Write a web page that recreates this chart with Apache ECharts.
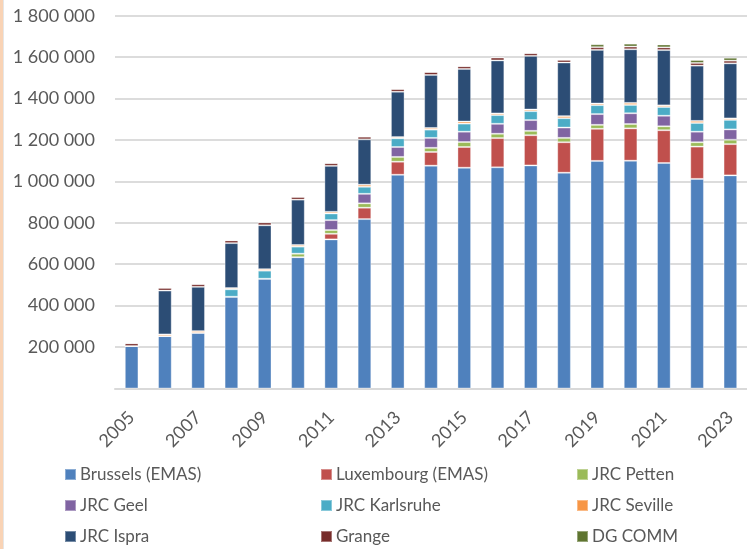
<!DOCTYPE html>
<html>
<head>
<meta charset="utf-8">
<script src="https://cdn.jsdelivr.net/npm/echarts@6/dist/echarts.min.js"></script>
<style>
  html, body { margin: 0; padding: 0; background: #fff; }
  #wrap { position: relative; width: 747px; height: 549px; overflow: hidden; background: #fff; }
  #chart { width: 747px; height: 549px; }
  #edge { position: absolute; left: 0; top: 0; width: 3px; height: 549px; background: #F9D3B5; border-right: 1px solid #E6E6E6; }
</style>
</head>
<body>
<div id="wrap"><div id="chart"></div><div id="edge"></div></div>
<script>
// Years on the category axis
const years = ['2005', '2006', '2007', '2008', '2009', '2010', '2011', '2012', '2013', '2014',
               '2015', '2016', '2017', '2018', '2019', '2020', '2021', '2022', '2023'];

// Values per site, one entry per year
const brussels   = [205000, 253000, 269000, 443000, 530000, 634000, 720000, 818000, 1032000, 1076000,
                    1066000, 1068000, 1077000, 1042000, 1099000, 1100000, 1089000, 1012000, 1029000];
const luxembourg = [0, 0, 0, 0, 0, 0, 27000, 55000, 63000, 66000,
                    100000, 141000, 146000, 147000, 155000, 156000, 158000, 156000, 151000];
const petten     = [0, 0, 0, 0, 0, 17000, 18000, 21000, 23000, 20000,
                    24000, 21000, 21000, 21000, 19000, 21000, 19000, 21000, 21000];
const geel       = [0, 0, 0, 0, 0, 0, 48000, 46000, 48000, 48000,
                    50000, 48000, 52000, 50000, 52000, 52000, 51000, 51000, 50000];
const karlsruhe  = [0, 0, 0, 36000, 39000, 34000, 32000, 34000, 42000, 40000,
                    39000, 42000, 43000, 45000, 43000, 40000, 42000, 42000, 46000];
const seville    = [0, 8000, 8000, 6000, 7000, 8000, 8000, 10000, 6000, 8000,
                    10000, 8000, 8000, 10000, 8000, 10000, 8000, 10000, 7000];
const ispra      = [0, 212000, 214000, 217000, 212000, 219000, 222000, 219000, 219000, 256000,
                    254000, 256000, 259000, 259000, 259000, 259000, 267000, 267000, 266000];
const grange     = [13000, 13000, 13000, 13000, 14000, 13000, 13000, 13000, 13000, 14000,
                    13000, 14000, 13000, 13000, 13000, 13000, 13000, 13000, 13000];
const dgComm     = [0, 0, 0, 0, 0, 0, 0, 0, 0, 0,
                    0, 0, 0, 0, 14000, 14000, 14000, 14000, 14000];

const seriesNames = ['Brussels (EMAS)', 'Luxembourg (EMAS)', 'JRC Petten',
                     'JRC Geel', 'JRC Karlsruhe', 'JRC Seville',
                     'JRC Ispra', 'Grange', 'DG COMM'];
const seriesValues = [brussels, luxembourg, petten, geel, karlsruhe, seville, ispra, grange, dgComm];

// Office-style palette
const palette = ['#4F81BD', '#C0504D', '#9BBB59', '#8064A2', '#4BACC6', '#F79646', '#2C4D75', '#772C2A', '#5F7530'];

const FONT = 'Lato, "Liberation Sans", sans-serif';
const TEXT = '#595959';

const fmt = v => String(v).replace(/\B(?=(\d{3})+(?!\d))/g, ' ');

// Legend laid out as a 3 x 3 grid
const legendCols = [64, 320, 576];
const legendRowCenters = [474.5, 505.5, 536];
const legends = seriesNames.map((name, i) => ({
  data: [name],
  left: legendCols[i % 3],
  top: Math.round(legendRowCenters[Math.floor(i / 3)] - 8.5),
  padding: 0,
  icon: 'rect',
  itemWidth: 11,
  itemHeight: 11,
  itemGap: 0,
  selectedMode: false,
  textStyle: { fontFamily: FONT, fontSize: 17, color: TEXT, padding: [0, 0, 0, -1] }
}));

const chart = echarts.init(document.getElementById('chart'), null, { renderer: 'canvas' });
chart.setOption({
  animation: false,
  backgroundColor: '#fff',
  legend: legends,
  grid: { left: 115, right: -2, top: 15.7, bottom: 160.5, containLabel: false },
  xAxis: {
    type: 'category',
    data: years,
    axisLine: { lineStyle: { color: '#D9D9D9', width: 2 } },
    axisTick: { show: false },
    axisLabel: {
      interval: 1,
      rotate: 45,
      margin: 26,
      fontFamily: FONT,
      fontSize: 18,
      color: TEXT
    }
  },
  yAxis: {
    type: 'value',
    min: 0,
    max: 1800000,
    interval: 200000,
    axisLine: { show: false },
    axisTick: { show: false },
    splitLine: { lineStyle: { color: '#DCDCDC', width: 2 } },
    axisLabel: {
      showMinLabel: false,
      margin: 20,
      fontFamily: FONT,
      fontSize: 18,
      color: TEXT,
      formatter: fmt
    }
  },
  series: seriesNames.map((name, i) => ({
    name: name,
    type: 'bar',
    stack: 'total',
    barWidth: '41%',
    data: seriesValues[i],
    itemStyle: { color: palette[i], borderColor: 'rgba(255,255,255,0.35)', borderWidth: 1 }
  }))
});
</script>
</body>
</html>
